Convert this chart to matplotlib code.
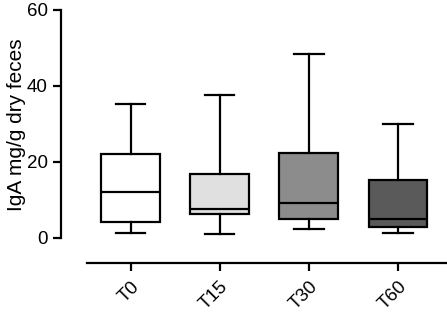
import matplotlib.pyplot as plt

plt.rcParams['font.family'] = ['Liberation Sans', 'DejaVu Sans']

groups = ['T0', 'T15', 'T30', 'T60']
whisker_low = [1.2, 1.05, 2.4, 1.3]
q1 = [4.1, 6.4, 5.1, 2.8]
median = [12.0, 7.7, 9.1, 5.0]
q3 = [22.1, 16.9, 22.4, 15.3]
whisker_high = [35.3, 37.6, 48.5, 30.1]
box_colors = ['#ffffff', '#e0e0e0', '#8c8c8c', '#5a5a5a']

stats = []
for i, g in enumerate(groups):
    stats.append({'label': g, 'whislo': whisker_low[i], 'q1': q1[i], 'med': median[i],
                  'q3': q3[i], 'whishi': whisker_high[i], 'fliers': []})

fig = plt.figure(figsize=(4.47, 3.15), dpi=100)
ax = fig.add_axes([61 / 447, 52 / 315, 1 - 61 / 447, 253 / 315])

lw = 1.6
bp = ax.bxp(stats, positions=range(len(groups)), widths=0.66, patch_artist=True,
            showfliers=False,
            boxprops=dict(linewidth=lw, edgecolor='black'),
            medianprops=dict(color='black', linewidth=lw),
            whiskerprops=dict(color='black', linewidth=lw),
            capprops=dict(color='black', linewidth=lw),
            capwidths=0.33)
for patch, c in zip(bp['boxes'], box_colors):
    patch.set_facecolor(c)

ax.set_xlim(-0.78, 3.55)
ax.set_ylim(-6.6, 60)
ax.spines['top'].set_visible(False)
ax.spines['right'].set_visible(False)
ax.spines['left'].set_bounds(0, 60)
ax.spines['bottom'].set_bounds(-0.49, 3.55)
for s in ['left', 'bottom']:
    ax.spines[s].set_linewidth(1.6)

ax.set_yticks([0, 20, 40, 60])
ax.set_xticks(range(len(groups)))
ax.set_xticklabels(groups, rotation=45, ha='right', rotation_mode='anchor')
ax.tick_params(axis='both', direction='out', length=6, width=1.6, labelsize=13.5)
ax.tick_params(axis='x', pad=5)
ax.set_ylabel('IgA mg/g dry feces', fontsize=15)
ax.yaxis.set_label_coords(-0.09, 0.545)

fig.savefig('out.png', dpi=100)
